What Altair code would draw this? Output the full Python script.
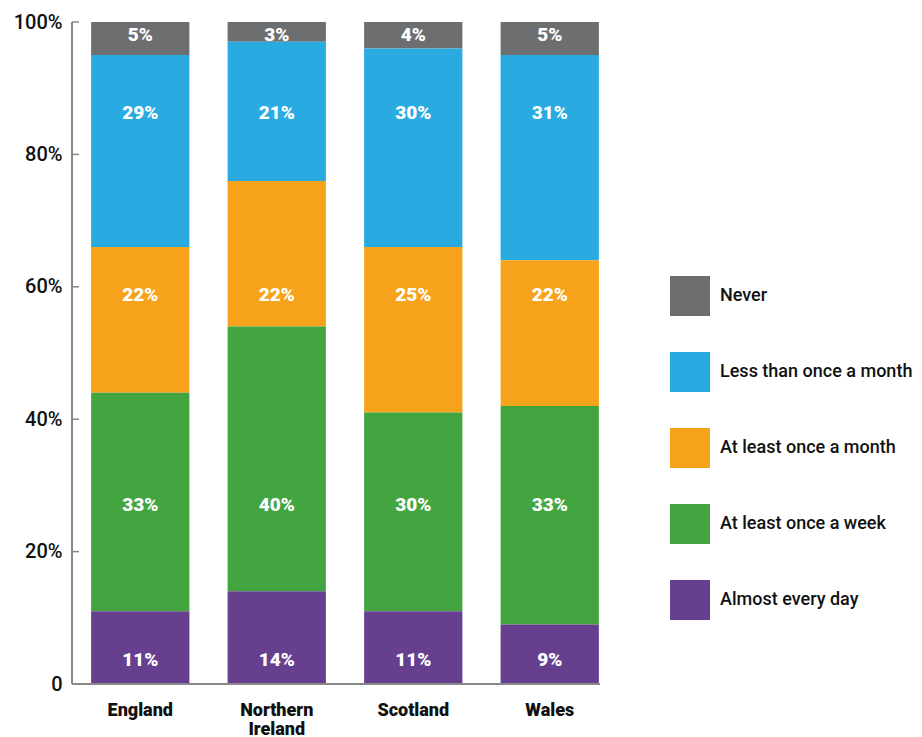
import altair as alt
import pandas as pd

regions = ["England", "Northern Ireland", "Scotland", "Wales"]
categories = ["Never", "Less than once a month", "At least once a month",
              "At least once a week", "Almost every day"]
never = [5, 3, 4, 5]
less_month = [29, 21, 30, 31]
least_month = [22, 22, 25, 22]
least_week = [33, 40, 30, 33]
daily = [11, 14, 11, 9]
colors = ["#6d6e70", "#29abe2", "#f7a21b", "#43a540", "#673f8f"]

series = [never, less_month, least_month, least_week, daily]
rows = []
for ci, (cat, vals) in enumerate(zip(categories, series)):
    for r, v in zip(regions, vals):
        rows.append({"region": r, "category": cat, "value": v,
                     "rank": len(categories) - 1 - ci})
df = pd.DataFrame(rows)

W, H = 546, 662
FONT = "Roboto"

label_y_expr = ("datum.category == 'Never' ? 98.0 : datum.category == 'Less than once a month' ? 86.3 : "
                "datum.category == 'At least once a month' ? 58.8 : datum.category == 'At least once a week' ? 27.0 : 3.6")

xenc = alt.X("region:N", sort=regions, title=None,
             scale=alt.Scale(paddingInner=0.28, paddingOuter=0.14),
             axis=alt.Axis(domain=False, ticks=False, labelAngle=0, labelFont=FONT,
                           labelFontSize=18, labelFontWeight=900, labelColor="#111",
                           labelPadding=17, labelLineHeight=19,
                           labelExpr="split(datum.label, ' ')"))

bars = alt.Chart(df).mark_bar().encode(
    x=xenc,
    y=alt.Y("value:Q", stack="zero", title=None,
            scale=alt.Scale(domain=[0, 100], nice=False),
            axis=alt.Axis(values=[0, 20, 40, 60, 80, 100], grid=False, domain=False,
                          ticks=False,
                          labelFont=FONT, labelFontSize=20, labelFontWeight=500,
                          labelColor="#111", labelPadding=10,
                          labelExpr="datum.value == 0 ? '0' : datum.value + '%'")),
    color=alt.Color("category:N", sort=categories,
                    scale=alt.Scale(domain=categories, range=colors),
                    legend=alt.Legend(title=None, orient="none", legendX=598, legendY=254,
                                      symbolType="square", symbolSize=1600,
                                      symbolStrokeWidth=0, symbolOpacity=1,
                                      labelFont=FONT, labelFontSize=18, labelFontWeight=500,
                                      labelColor="#111", labelOffset=10, labelLimit=300,
                                      rowPadding=36)),
    order=alt.Order("rank:Q", sort="ascending"),
)

texts = alt.Chart(df).transform_calculate(
    ly=label_y_expr,
    lbl="datum.value + '%'"
).mark_text(color="white", font=FONT, fontSize=19, fontWeight=900, baseline="middle").encode(
    x=alt.X("region:N", sort=regions),
    y=alt.Y("ly:Q"),
    text="lbl:N",
)

tick_vals = pd.DataFrame({"t": [0, 20, 40, 60, 80, 100]})
ticks = alt.Chart(tick_vals).mark_rule(color="#888", strokeWidth=1.5).encode(
    y=alt.Y("t:Q"), x=alt.value(0), x2=alt.value(7))

yline = alt.Chart(df).mark_rule(color="#888", strokeWidth=1.5).encode(
    x=alt.value(0), y=alt.value(0), y2=alt.value(H))
xline = alt.Chart(df).mark_rule(color="#888", strokeWidth=1.5).encode(
    x=alt.value(0), x2=alt.value(528), y=alt.value(H))

chart = alt.layer(bars, texts, ticks, yline, xline).properties(
    width=W, height=H,
    padding={"left": 72, "top": 22, "right": 304, "bottom": 53},
    autosize=alt.AutoSizeParams(type="none"),
    background="white",
).configure_view(strokeWidth=0)

chart.save("out.html", embed_options={"renderer": "svg", "actions": False})
